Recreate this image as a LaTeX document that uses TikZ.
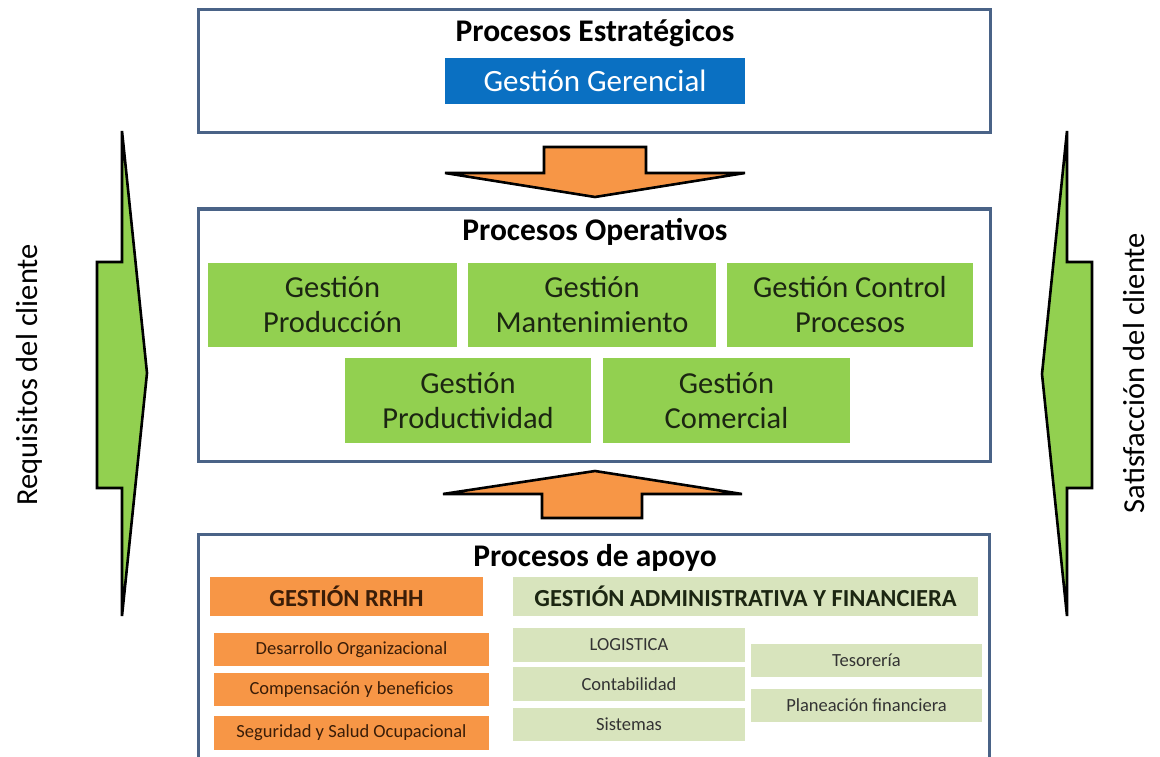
\documentclass[tikz,border=0pt]{standalone}
\usepackage{fontspec}
\setmainfont{Carlito}
\definecolor{framec}{HTML}{4A6387}
\definecolor{blueG}{HTML}{0A70C2}
\definecolor{greenG}{HTML}{92D050}
\definecolor{orangeG}{HTML}{F79646}
\definecolor{lgreen}{HTML}{D8E4BD}
\definecolor{darktxt}{HTML}{1C2612}
\definecolor{browntxt}{HTML}{3A1D08}
\definecolor{graytxt}{HTML}{333333}
\begin{document}
\begin{tikzpicture}[x=1pt,y=-1pt,
  framebox/.style={draw=framec,line width=3pt,inner sep=0pt,outer sep=0pt},
  titletxt/.style={font=\fontsize{31.5}{34}\selectfont\bfseries,text=black,inner sep=0pt},
  gbox/.style={fill=greenG,inner sep=0pt,outer sep=0pt,align=center,text=darktxt,font=\fontsize{30.5}{35}\selectfont},
  obox/.style={fill=orangeG,inner sep=0pt,outer sep=0pt,align=center,text=browntxt,font=\fontsize{18.5}{20}\selectfont},
  lbox/.style={fill=lgreen,inner sep=0pt,outer sep=0pt,align=center,text=graytxt,font=\fontsize{18.5}{20}\selectfont},
  blockarrow/.style={draw=black,line width=2.6pt,line join=miter},
  sidetxt/.style={font=\fontsize{30.5}{33}\selectfont,text=black,rotate=90,inner sep=0pt}
]
\useasboundingbox (0,0) rectangle (1160,757);
\fill[white] (0,0) rectangle (1160,757);

% frames
\node[framebox,minimum width=792,minimum height=123] (estr) at (594,71.5) {};
\node[framebox,minimum width=792,minimum height=252] (oper) at (594,335) {};
\coordinate (apBL) at (198,760);
\coordinate (apBR) at (989,760);
\draw[draw=framec,line width=3pt] (apBL) -- (198,534) -- (989,534) -- (apBR);

% titles
\node[titletxt] (testr) at (595,33.5) {Procesos Estratégicos};
\node[titletxt] (toper) at (595,232) {Procesos Operativos};
\node[titletxt] (tapoyo) at (595,558) {Procesos de apoyo};

% strategic
\node[fill=blueG,inner sep=0pt,minimum width=300,minimum height=46,text=white,font=\fontsize{31}{33}\selectfont] (ger) at (595,81) {Gestión Gerencial};

% operative
\node[gbox,minimum width=249,minimum height=84] (prod) at (332.5,305) {Gestión\\Producción};
\node[gbox,minimum width=248,minimum height=84] (mant) at (592,305) {Gestión\\Mantenimiento};
\node[gbox,minimum width=246,minimum height=84] (ctrl) at (850,305) {Gestión Control\\Procesos};
\node[gbox,minimum width=246,minimum height=85] (prodv) at (468,400.5) {Gestión\\Productividad};
\node[gbox,minimum width=247,minimum height=85] (com) at (726.5,400.5) {Gestión\\Comercial};

% orange block arrows
\draw[blockarrow,fill=orangeG] (544,147) -- (646,147) -- (646,173) -- (745,173) -- (595,197) -- (445,173) -- (544,173) -- cycle;
\draw[blockarrow,fill=orangeG] (542,518) -- (642,518) -- (642,494) -- (742,494) -- (595,471) -- (443,494) -- (542,494) -- cycle;

% green side arrows
\draw[blockarrow,fill=greenG] (122,131) -- (122,262) -- (97,262) -- (97,488) -- (122,488) -- (122,616) -- (147,373) -- cycle;
\draw[blockarrow,fill=greenG] (1067,131) -- (1067,262) -- (1092,262) -- (1092,488) -- (1067,488) -- (1067,616) -- (1042,374) -- cycle;
\node[sidetxt] (req) at (29,375) {Requisitos del cliente};
\node[sidetxt] (sat) at (1134,373) {Satisfacción del cliente};

% support
\node[fill=orangeG,inner sep=0pt,minimum width=273,minimum height=39,text=browntxt,font=\fontsize{24.5}{26}\selectfont\bfseries] (rrhh) at (346.5,596.5) {GESTIÓN RRHH};
\node[fill=lgreen,inner sep=0pt,minimum width=465,minimum height=39,text=darktxt,font=\fontsize{24.5}{26}\selectfont\bfseries] (adm) at (745.5,596.5) {GESTIÓN ADMINISTRATIVA Y FINANCIERA};

\node[obox,minimum width=275,minimum height=33] (des) at (351.5,649.5) {Desarrollo Organizacional};
\node[obox,minimum width=275,minimum height=33] (comp) at (351.5,689.5) {Compensación y beneficios};
\node[obox,minimum width=275,minimum height=34] (seg) at (351.5,733) {Seguridad y Salud Ocupacional};

\node[lbox,minimum width=232,minimum height=34] (log) at (629,645) {LOGISTICA};
\node[lbox,minimum width=232,minimum height=34] (cont) at (629,684) {Contabilidad};
\node[lbox,minimum width=232,minimum height=33] (sis) at (629,724.5) {Sistemas};
\node[lbox,minimum width=231,minimum height=33] (tes) at (866.5,660.5) {Tesorería};
\node[lbox,minimum width=231,minimum height=33] (plan) at (866.5,705.5) {Planeación financiera};
\end{tikzpicture}
\end{document}
